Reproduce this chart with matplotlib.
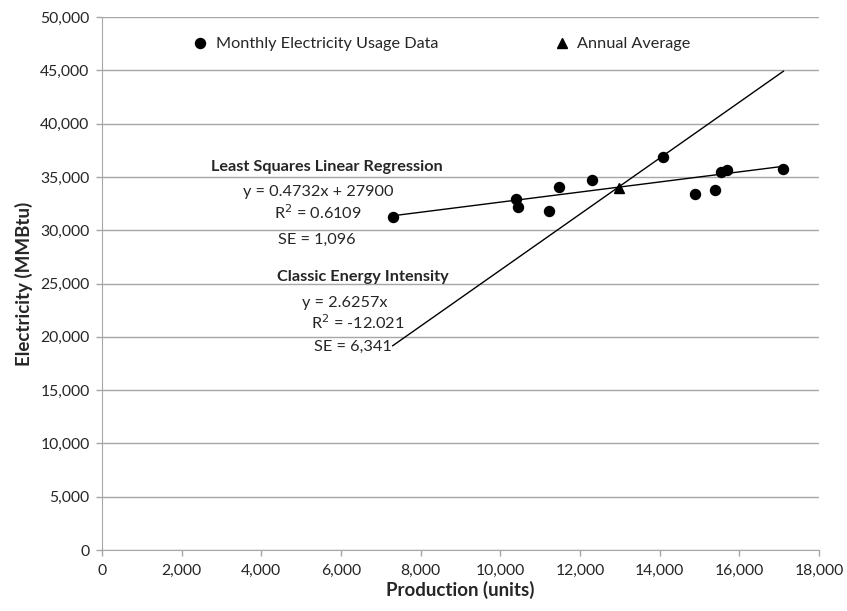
# Gráfica de consumo eléctrico vs producción con dos modelos de referencia
import matplotlib
matplotlib.use("Agg")
import matplotlib.pyplot as plt
import numpy as np

# -------------------- DATOS --------------------
# Datos mensuales (producción en unidades, electricidad en MMBtu)
produccion = [7298, 10386, 10452, 11223, 11482, 12302, 14077, 14880, 15390, 15532, 15683, 17105]
electricidad = [31210, 32927, 32205, 31801, 34024, 34709, 36839, 33424, 33800, 35431, 35647, 35769]

# Coeficientes de los modelos
pendiente_reg = 0.4732
intercepto_reg = 27900
intensidad = 2.6257

x_ticks = list(range(0, 18001, 2000))
y_ticks = list(range(0, 50001, 5000))

# Promedio anual
prom_x = np.mean(produccion)
prom_y = np.mean(electricidad)

# -------------------- FIGURA --------------------
plt.rcParams['font.family'] = ['Lato', 'DejaVu Sans']
gris = '#a6a6a6'
texto = '#262626'
fs = 11.7

fig = plt.figure(figsize=(8.47, 6.11), dpi=100)
ax = fig.add_axes([0.1204, 0.0998, 0.8466, 0.8724])

# Líneas de los modelos sobre el rango de producción
xs = np.array([min(produccion), max(produccion)])
ax.plot(xs, pendiente_reg * xs + intercepto_reg, color='black', lw=1.0, zorder=3)
ax.plot(xs, intensidad * xs, color='black', lw=1.0, zorder=3)

ax.plot(produccion, electricidad, 'o', color='black', markersize=7.2,
        label='Monthly Electricity Usage Data', zorder=4)
ax.plot([prom_x], [prom_y], '^', color='black', markersize=7.2,
        label='Annual Average', zorder=4)

# Etiquetas de los modelos
ax.text(5650, 35930, 'Least Squares Linear Regression', ha='center', va='center',
        fontsize=fs, fontweight='bold', color=texto)
ax.text(5420, 33580, 'y = 0.4732x + 27900', ha='center', va='center', fontsize=fs, color=texto)
ax.text(5420, 31610, 'R$^2$ = 0.6109', ha='center', va='center', fontsize=fs, color=texto)
ax.text(5400, 29080, 'SE = 1,096', ha='center', va='center', fontsize=fs, color=texto)

ax.text(6550, 25610, 'Classic Energy Intensity', ha='center', va='center',
        fontsize=fs, fontweight='bold', color=texto)
ax.text(6100, 23170, 'y = 2.6257x', ha='center', va='center', fontsize=fs, color=texto)
ax.text(6430, 21300, 'R$^2$ = -12.021', ha='center', va='center', fontsize=fs, color=texto)
ax.text(6300, 19040, 'SE = 6,341', ha='center', va='center', fontsize=fs, color=texto)

# -------------------- EJES --------------------
ax.set_xlim(0, 18000)
ax.set_ylim(0, 50000)
ax.set_xticks(x_ticks)
ax.set_yticks(y_ticks)
ax.set_xticklabels([f'{v:,}' for v in x_ticks])
ax.set_yticklabels([f'{v:,}' for v in y_ticks])
ax.tick_params(axis='both', colors=gris, labelcolor=texto, labelsize=11.3, length=4, width=1)
ax.tick_params(axis='y', pad=5)
ax.tick_params(axis='x', pad=6)

ax.grid(axis='y', color=gris, lw=1)
ax.set_axisbelow(True)
for lado in ['top', 'right']:
    ax.spines[lado].set_visible(False)
for lado in ['left', 'bottom']:
    ax.spines[lado].set_color(gris)

ax.set_xlabel('Production (units)', fontsize=13.5, fontweight='bold', color=texto, labelpad=2)
ax.set_ylabel('Electricity (MMBtu)', fontsize=13.5, fontweight='bold', color=texto, labelpad=5)

ax.legend(loc='center', bbox_to_anchor=(0.472, 0.949), ncol=2, frameon=False,
          fontsize=fs, columnspacing=7.0, handletextpad=0.35, handlelength=1.2,
          labelcolor=texto)

fig.savefig('out.png', dpi=100)
